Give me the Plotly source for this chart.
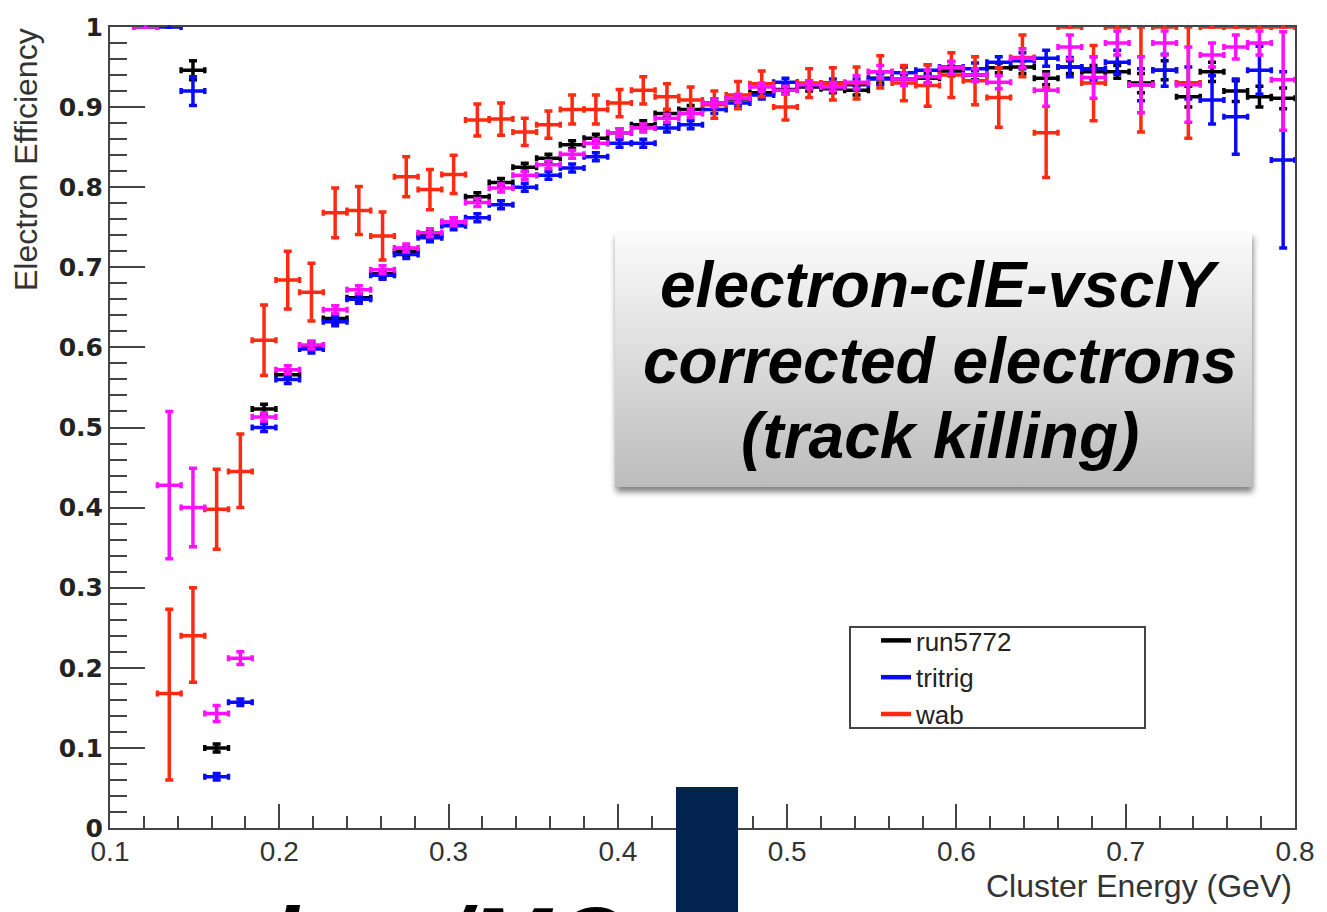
import base64
import plotly.graph_objects as go

# Cluster-energy bin centres (GeV), 50 bins of 0.014 GeV between 0.1 and 0.8
energy = [0.107, 0.121, 0.135, 0.149, 0.163, 0.177, 0.191, 0.205, 0.219, 0.233,
          0.247, 0.261, 0.275, 0.289, 0.303, 0.317, 0.331, 0.345, 0.359, 0.373,
          0.387, 0.401, 0.415, 0.429, 0.443, 0.457, 0.471, 0.485, 0.499, 0.513,
          0.527, 0.541, 0.555, 0.569, 0.583, 0.597, 0.611, 0.625, 0.639, 0.653,
          0.667, 0.681, 0.695, 0.709, 0.723, 0.737, 0.751, 0.765, 0.779, 0.793]
bin_half_width = 0.007

# run5772 (data)
eff_run5772 = [None, None, None, 0.946, 0.100, None, 0.523, 0.566, 0.602, 0.636,
               0.662, 0.692, 0.720, 0.740, 0.757, 0.788, 0.806, 0.825, 0.836, 0.853,
               0.861, 0.868, 0.878, 0.892, 0.897, 0.905, 0.910, 0.918, 0.922, 0.925,
               0.923, 0.921, 0.936, 0.935, 0.936, 0.945, 0.940, 0.949, 0.950, 0.936,
               0.950, 0.944, 0.944, 0.930, 0.946, 0.913, 0.944, 0.920, 0.913, 0.911]
err_run5772 = [0, 0, 0, 0.012, 0.005, 0, 0.006, 0.005, 0.005, 0.005,
               0.005, 0.005, 0.005, 0.005, 0.005, 0.005, 0.005, 0.005, 0.005, 0.005,
               0.005, 0.005, 0.005, 0.005, 0.005, 0.005, 0.005, 0.005, 0.005, 0.005,
               0.005, 0.006, 0.006, 0.006, 0.006, 0.006, 0.006, 0.006, 0.008, 0.008,
               0.008, 0.008, 0.008, 0.012, 0.012, 0.013, 0.012, 0.013, 0.013, 0.013]

# tritrig (MC)
eff_tritrig = [None, 1.0, 1.0, 0.920, 0.064, 0.157, 0.500, 0.560, 0.598, 0.632,
               0.660, 0.690, 0.716, 0.737, 0.752, 0.762, 0.778, 0.800, 0.815, 0.824,
               0.838, 0.855, 0.855, 0.874, 0.878, 0.897, 0.905, 0.915, 0.931, 0.928,
               0.930, 0.928, 0.935, 0.943, 0.946, 0.950, 0.948, 0.956, 0.958, 0.961,
               0.950, 0.948, 0.956, 0.928, 0.946, 0.930, 0.909, 0.888, 0.946, 0.834]
err_tritrig = [0, 0, 0, 0.018, 0.004, 0.004, 0.005, 0.005, 0.005, 0.005,
               0.005, 0.005, 0.005, 0.005, 0.005, 0.005, 0.005, 0.005, 0.005, 0.005,
               0.005, 0.005, 0.005, 0.005, 0.005, 0.005, 0.005, 0.005, 0.005, 0.005,
               0.005, 0.007, 0.007, 0.007, 0.007, 0.007, 0.007, 0.007, 0.010, 0.010,
               0.012, 0.015, 0.015, 0.020, 0.020, 0.020, 0.030, 0.047, 0.030, 0.110]

# wab (MC), asymmetric errors
eff_wab = [None, None, 0.168, 0.240, 0.398, 0.445, 0.609, 0.684, 0.669, 0.768,
           0.771, 0.739, 0.813, 0.797, 0.816, 0.884, 0.885, 0.869, 0.878, 0.897,
           0.897, 0.905, 0.921, 0.913, 0.909, 0.903, 0.915, 0.929, 0.900, 0.930,
           0.929, 0.930, 0.944, 0.930, 0.927, 0.940, 0.933, 0.912, 0.962, 0.868,
           1.000, 0.930, 1.000, 0.928, 1.000, 0.930, 1.000, 1.000, 1.000, 1.000]
err_wab_up = [0, 0, 0.105, 0.060, 0.050, 0.047, 0.044, 0.036, 0.036, 0.031,
              0.030, 0.030, 0.025, 0.025, 0.024, 0.020, 0.020, 0.017, 0.017, 0.018,
              0.018, 0.017, 0.017, 0.016, 0.016, 0.017, 0.017, 0.016, 0.016, 0.018,
              0.020, 0.020, 0.020, 0.022, 0.026, 0.028, 0.030, 0.037, 0.028, 0.056,
              0, 0.047, 0, 0.072, 0, 0.070, 0, 0, 0, 0]
err_wab_down = [0, 0, 0.108, 0.058, 0.050, 0.045, 0.044, 0.036, 0.036, 0.031,
                0.030, 0.030, 0.025, 0.025, 0.024, 0.020, 0.020, 0.017, 0.017, 0.018,
                0.018, 0.017, 0.017, 0.016, 0.016, 0.017, 0.017, 0.016, 0.016, 0.018,
                0.020, 0.020, 0.020, 0.022, 0.026, 0.028, 0.030, 0.037, 0.024, 0.056,
                0, 0.047, 0, 0.059, 0, 0.069, 0, 0, 0, 0]

# additional MC sample (no legend entry)
eff_mc2 = [None, 1.0, 0.428, 0.400, 0.143, 0.212, 0.513, 0.572, 0.603, 0.647,
           0.672, 0.697, 0.724, 0.743, 0.757, 0.781, 0.799, 0.815, 0.828, 0.841,
           0.855, 0.868, 0.874, 0.886, 0.892, 0.905, 0.911, 0.925, 0.921, 0.928,
           0.925, 0.931, 0.944, 0.935, 0.938, 0.949, 0.940, 0.931, 0.961, 0.921,
           0.975, 0.937, 0.980, 0.928, 0.980, 0.928, 0.965, 0.975, 0.980, 0.934]
err_mc2_up = [0, 0, 0.092, 0.049, 0.010, 0.008, 0.005, 0.005, 0.005, 0.005,
              0.005, 0.005, 0.005, 0.005, 0.005, 0.005, 0.005, 0.005, 0.005, 0.005,
              0.005, 0.005, 0.005, 0.005, 0.005, 0.005, 0.005, 0.005, 0.005, 0.005,
              0.005, 0.008, 0.008, 0.008, 0.008, 0.008, 0.008, 0.008, 0.012, 0.020,
              0.015, 0.026, 0.015, 0.035, 0.015, 0.047, 0.015, 0.015, 0.015, 0.060]
err_mc2_down = [0, 0, 0.092, 0.049, 0.010, 0.008, 0.005, 0.005, 0.005, 0.005,
                0.005, 0.005, 0.005, 0.005, 0.005, 0.005, 0.005, 0.005, 0.005, 0.005,
                0.005, 0.005, 0.005, 0.005, 0.005, 0.005, 0.005, 0.005, 0.005, 0.005,
                0.005, 0.008, 0.008, 0.008, 0.008, 0.008, 0.008, 0.008, 0.012, 0.020,
                0.015, 0.026, 0.015, 0.035, 0.015, 0.047, 0.015, 0.015, 0.015, 0.063]

legend_names = ["run5772", "tritrig", "wab"]
colors = {"run5772": "#000000", "tritrig": "#0a0aff", "wab": "#ff2a12", "mc2": "#ff10ff"}

W, H = 1327, 912
ML, MR, MT, MB = 110, 32, 27, 84
PW, PH = W - ML - MR, H - MT - MB


def fx(px):
    return (px - ML) / PW


def fy(py):
    return (H - MB - py) / PH


def eff_trace(y, up, down, color):
    return go.Scatter(
        x=energy, y=y, mode="markers",
        marker=dict(color=color, size=4),
        error_x=dict(type="constant", value=bin_half_width, color=color,
                     thickness=3.5, width=3),
        error_y=dict(type="data", array=up, arrayminus=down, symmetric=False,
                     color=color, thickness=3.5, width=4),
        showlegend=False, cliponaxis=False, hoverinfo="x+y",
    )


fig = go.Figure()
fig.add_trace(eff_trace(eff_run5772, err_run5772, err_run5772, colors["run5772"]))
fig.add_trace(eff_trace(eff_tritrig, err_tritrig, err_tritrig, colors["tritrig"]))
fig.add_trace(eff_trace(eff_wab, err_wab_up, err_wab_down, colors["wab"]))
fig.add_trace(eff_trace(eff_mc2, err_mc2_up, err_mc2_down, colors["mc2"]))

# line-style legend entries
for name in legend_names:
    fig.add_trace(go.Scatter(x=[None], y=[None], mode="lines", name=name,
                             line=dict(color=colors[name], width=4.5)))

axis_col = "#444444"
fig.update_layout(
    width=W, height=H, autosize=False,
    margin=dict(l=ML, r=MR, t=MT, b=MB),
    paper_bgcolor="white", plot_bgcolor="white",
    xaxis=dict(range=[0.1, 0.8], tick0=0.1, dtick=0.1, ticks="inside", ticklen=24,
               tickwidth=2, tickcolor=axis_col, ticklabelstandoff=-3,
               minor=dict(tick0=0.1, dtick=0.02, ticks="inside", ticklen=12,
                          tickwidth=2, tickcolor=axis_col),
               showline=True, linecolor=axis_col, linewidth=2, mirror=True,
               showgrid=False, zeroline=False, layer="below traces",
               tickfont=dict(family="Liberation Sans, Arial", size=28, color="#333")),
    yaxis=dict(range=[0, 1], tick0=0, dtick=0.1, ticks="inside", ticklen=35,
               tickwidth=2, tickcolor=axis_col,
               minor=dict(tick0=0, dtick=0.02, ticks="inside", ticklen=17,
                          tickwidth=2, tickcolor=axis_col),
               showline=True, linecolor=axis_col, linewidth=2, mirror=True,
               showgrid=False, zeroline=False, layer="below traces",
               tickfont=dict(family="DejaVu Sans", size=25, color="#222",
                             weight="bold")),
    legend=dict(x=fx(876), y=fy(617), xanchor="left", yanchor="top",
                bgcolor="rgba(0,0,0,0)", borderwidth=0,
                font=dict(family="Liberation Sans, Arial", size=26, color="#222"),
                tracegroupgap=0),
    showlegend=True,
)

shapes = [
    # legend frame
    dict(type="rect", xref="paper", yref="paper", x0=fx(850), x1=fx(1145),
         y0=fy(728), y1=fy(627), line=dict(color="#444", width=2),
         fillcolor="white", layer="above"),
    # navy bar at the bottom of the slide
    dict(type="rect", xref="paper", yref="paper", x0=fx(676), x1=fx(738),
         y0=fy(915), y1=fy(787), line=dict(width=0), fillcolor="#02234f",
         layer="above"),
]
fig.update_layout(shapes=shapes)

# gradient label box with drop shadow
box_svg = (
    '<svg xmlns="http://www.w3.org/2000/svg" width="660" height="290" viewBox="0 0 660 290">'
    '<defs><linearGradient id="g" x1="0" y1="0" x2="0" y2="1">'
    '<stop offset="0" stop-color="#fbfbfb"/><stop offset="1" stop-color="#bcbcbc"/>'
    '</linearGradient>'
    '<filter id="s" x="-10%" y="-10%" width="120%" height="130%">'
    '<feGaussianBlur stdDeviation="3"/></filter></defs>'
    '<rect x="11" y="15" width="637" height="255" fill="#000" opacity="0.5" filter="url(#s)"/>'
    '<rect x="10" y="10" width="637" height="255" fill="url(#g)"/>'
    '</svg>'
)
box_uri = "data:image/svg+xml;base64," + base64.b64encode(box_svg.encode()).decode()
fig.add_layout_image(dict(source=box_uri, xref="paper", yref="paper",
                          x=fx(605), y=fy(222), sizex=660 / PW, sizey=290 / PH,
                          xanchor="left", yanchor="top", sizing="stretch",
                          layer="above"))

label_font = dict(family="Liberation Sans, Arial", size=64, color="black",
                  weight="bold", style="italic")
for text, cy in [("electron-clE-vsclY", 285), ("corrected electrons", 361),
                 ("(track killing)", 436)]:
    fig.add_annotation(text=text, xref="paper", yref="paper", x=fx(940), y=fy(cy),
                       xanchor="center", yanchor="middle", showarrow=False,
                       font=label_font)

# axis titles
fig.add_annotation(text="Electron Efficiency", xref="paper", yref="paper",
                   x=fx(26), y=fy(160), textangle=-90, showarrow=False,
                   xanchor="center", yanchor="middle",
                   font=dict(family="Liberation Sans, Arial", size=32, color="#333"))
fig.add_annotation(text="Cluster Energy (GeV)", xref="paper", yref="paper",
                   x=fx(1294), y=fy(886), showarrow=False,
                   xanchor="right", yanchor="middle",
                   font=dict(family="Liberation Sans, Arial", size=32, color="#333"))

# slide caption running off the bottom edge
fig.add_annotation(text="data/MC", xref="paper", yref="paper",
                   x=fx(236), y=fy(941), showarrow=False,
                   xanchor="left", yanchor="middle",
                   font=dict(family="Liberation Sans, Arial", size=99, color="black",
                             weight="bold", style="italic"))

fig.write_html("out.html")
